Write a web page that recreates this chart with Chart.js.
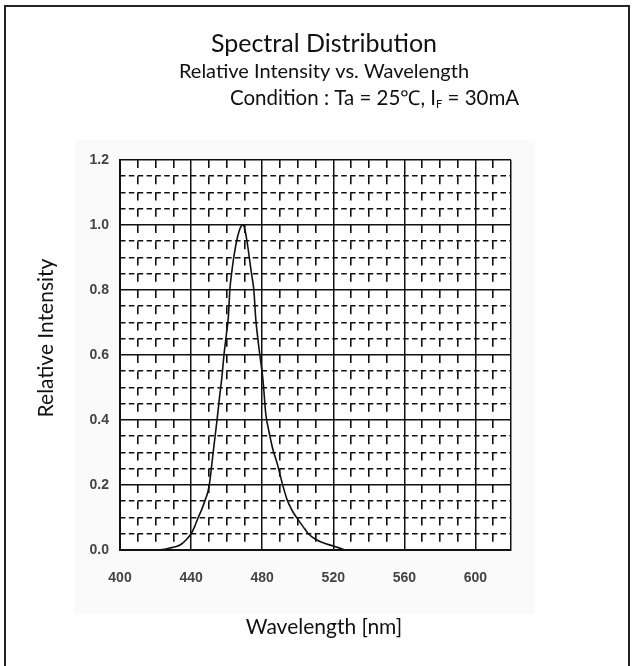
<!DOCTYPE html>
<html>
<head>
<meta charset="utf-8">
<script src="https://cdn.jsdelivr.net/npm/chart.js@4.4.0/dist/chart.umd.min.js"></script>
<style>
  html, body { margin: 0; padding: 0; background: #fff; }
  canvas { display: block; }
</style>
</head>
<body>
<canvas id="chart-1" width="635" height="666"></canvas>
<script>
// wavelength [nm] / relative intensity
var wavelengths = [400, 410, 420, 425, 428, 431, 434, 437, 440, 442, 444, 446, 448, 449.5, 450.5, 452, 453.5, 454.6, 456, 457.3,
    458.5, 460, 461, 461.8, 463, 464, 466, 468, 469.2, 470.5, 472, 473, 474, 475.3, 476.4, 478, 480.5, 482, 484, 486,
    488.5, 491.3, 494, 497, 500, 503, 506, 510, 514, 520, 524, 527, 540, 560, 580];
var intensities = [0, 0, 0, 0.002, 0.006, 0.01, 0.016, 0.03, 0.05, 0.072, 0.1, 0.125, 0.155, 0.18, 0.21, 0.28, 0.35, 0.4, 0.47, 0.53,
    0.6, 0.67, 0.72, 0.8, 0.86, 0.9, 0.96, 0.995, 1.0, 0.98, 0.93, 0.89, 0.85, 0.8, 0.71, 0.63, 0.52, 0.42, 0.36, 0.31,
    0.265, 0.205, 0.155, 0.12, 0.095, 0.072, 0.05, 0.033, 0.023, 0.012, 0.005, 0, 0, 0, 0];

var xTickLabels = [400, 440, 480, 520, 560, 600];
var yTickLabels = [0, 0.2, 0.4, 0.6, 0.8, 1.0, 1.2];
var xRange = [400, 620];
var yRange = [0, 1.2];
var xMinorStep = 10, yMinorStep = 0.05;

var titleText = "Spectral Distribution";
var subtitleText = "Relative Intensity vs. Wavelength";
var conditionText = ["Condition : Ta = 25\u2103, I", "F", " = 30mA"];
var xTitle = "Wavelength [nm]";
var yTitle = "Relative Intensity";

var points = wavelengths.map(function (w, i) { return { x: w, y: intensities[i] }; });

function isMajor(v, list) {
    return list.some(function (m) { return Math.abs(m - v) < 1e-6; });
}
function minorTicks(range, step) {
    var out = [];
    var n = Math.round((range[1] - range[0]) / step);
    for (var i = 0; i <= n; i++) out.push({ value: range[0] + i * step });
    return out;
}

var tickFont = { family: "'Liberation Sans', Arial, sans-serif", size: 14, weight: "bold" };
var textFont = "Lato, 'Open Sans', sans-serif";

// frame, grey backing box, header lines and axis titles
var decor = {
    id: "decor",
    beforeDraw: function (chart) {
        var ctx = chart.ctx, a = chart.chartArea;
        ctx.save();
        ctx.fillStyle = "#fafafa";
        ctx.fillRect(75, 140, 460, 474);
        ctx.fillStyle = "#fff";
        ctx.fillRect(a.left, a.top, a.right - a.left, a.bottom - a.top);
        ctx.restore();
    },
    afterDraw: function (chart) {
        var ctx = chart.ctx;
        ctx.save();
        ctx.strokeStyle = "#222";
        ctx.lineWidth = 2;
        ctx.beginPath();
        ctx.moveTo(5, 680); ctx.lineTo(5, 6); ctx.lineTo(629, 6); ctx.lineTo(629, 680);
        ctx.stroke();

        ctx.fillStyle = "#111";
        ctx.textBaseline = "middle";
        ctx.textAlign = "center";
        ctx.font = "25px " + textFont;
        ctx.fillText(titleText, 324, 44);
        ctx.font = "20px " + textFont;
        ctx.fillText(subtitleText, 324, 72);

        ctx.textAlign = "left";
        var x = 230, y = 98;
        ctx.font = "20.5px " + textFont;
        ctx.fillText(conditionText[0], x, y);
        x += ctx.measureText(conditionText[0]).width;
        ctx.font = "11px " + textFont;
        ctx.fillText(conditionText[1], x, y + 6);
        x += ctx.measureText(conditionText[1]).width;
        ctx.font = "20.5px " + textFont;
        ctx.fillText(conditionText[2], x, y);

        ctx.textAlign = "center";
        ctx.font = "21px " + textFont;
        ctx.fillText(xTitle, 324, 627);
        ctx.translate(46, 338);
        ctx.rotate(-Math.PI / 2);
        ctx.fillText(yTitle, 0, 0);
        ctx.restore();
    }
};

new Chart("chart-1", {
    type: "line",
    data: {
        datasets: [{
            data: points,
            borderColor: "#111",
            borderWidth: 1.6,
            pointRadius: 0,
            fill: false,
            cubicInterpolationMode: "monotone"
        }]
    },
    options: {
        responsive: false,
        animation: false,
        devicePixelRatio: 1,
        layout: { padding: { left: 0, top: 160, right: 124, bottom: 0 } },
        plugins: { legend: { display: false }, tooltip: { enabled: false } },
        scales: {
            x: {
                type: "linear",
                position: "bottom",
                min: xRange[0], max: xRange[1],
                afterFit: function (s) { s.height = 116; },
                afterBuildTicks: function (s) {
                    s.ticks = xTickLabels.concat([xRange[1]]).map(function (v) { return { value: v }; });
                },
                ticks: {
                    autoSkip: false,
                    maxRotation: 0,
                    padding: 20,
                    color: "#444",
                    font: tickFont,
                    callback: function (v) { return isMajor(v, xTickLabels) ? v : ""; }
                },
                grid: { color: "#111", lineWidth: 1.5, drawTicks: false },
                border: { color: "#111", width: 2 }
            },
            x2: {
                type: "linear",
                position: "bottom",
                min: xRange[0], max: xRange[1],
                afterFit: function (s) { s.height = 0; },
                afterBuildTicks: function (s) { s.ticks = minorTicks(xRange, xMinorStep); },
                ticks: { display: false },
                grid: {
                    drawTicks: false,
                    lineWidth: 1.6,
                    color: function (c) { return isMajor(c.tick.value, xTickLabels) || c.tick.value === xRange[1] ? "rgba(0,0,0,0)" : "#111"; }
                },
                border: { display: false, dash: [8, 8.25] }
            },
            y: {
                type: "linear",
                position: "left",
                min: yRange[0], max: yRange[1],
                afterFit: function (s) { s.width = 120; },
                afterBuildTicks: function (s) {
                    s.ticks = yTickLabels.map(function (v) { return { value: v }; });
                },
                ticks: {
                    autoSkip: false,
                    padding: 11,
                    color: "#444",
                    font: tickFont,
                    callback: function (v) { return v.toFixed(1); }
                },
                grid: { color: "#111", lineWidth: 1.5, drawTicks: false },
                border: { color: "#111", width: 2 }
            },
            y2: {
                type: "linear",
                position: "left",
                min: yRange[0], max: yRange[1],
                afterFit: function (s) { s.width = 0; },
                afterBuildTicks: function (s) { s.ticks = minorTicks(yRange, yMinorStep); },
                ticks: { display: false },
                grid: {
                    drawTicks: false,
                    lineWidth: 1.6,
                    color: function (c) { return isMajor(c.tick.value, yTickLabels) ? "rgba(0,0,0,0)" : "#111"; }
                },
                border: { display: false, dash: [5.5, 3.35] }
            }
        }
    },
    plugins: [decor]
});
</script>
</body>
</html>
